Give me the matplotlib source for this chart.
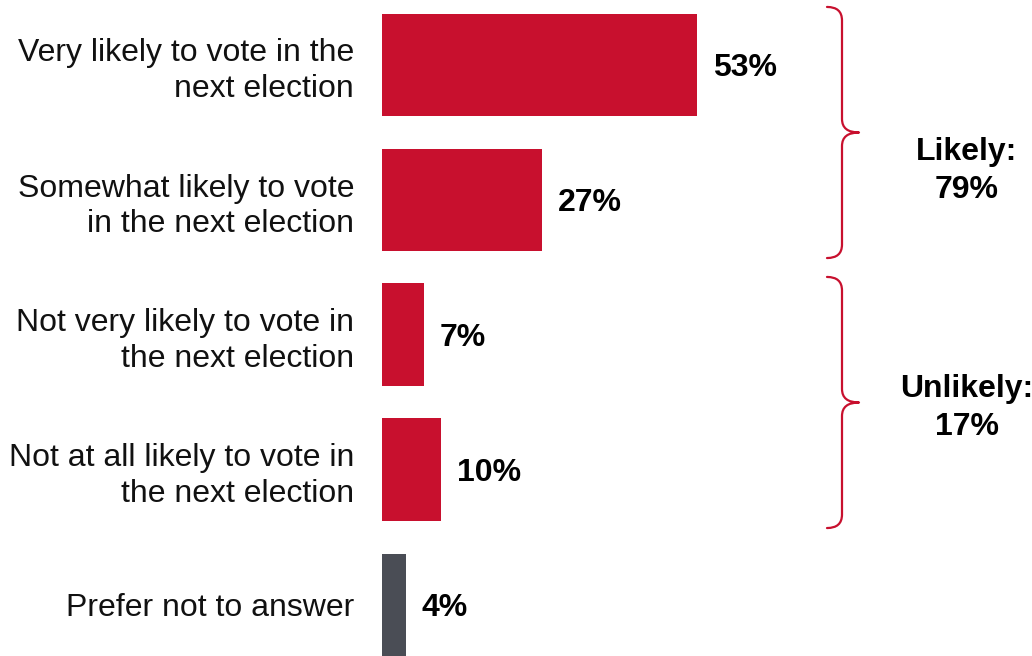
import matplotlib
matplotlib.use("Agg")
import matplotlib.pyplot as plt
from matplotlib.path import Path
from matplotlib.patches import PathPatch

plt.rcParams['font.family'] = ['Liberation Sans', 'DejaVu Sans']

categories = [
    "Very likely to vote in the\nnext election",
    "Somewhat likely to vote\nin the next election",
    "Not very likely to vote in\nthe next election",
    "Not at all likely to vote in\nthe next election",
    "Prefer not to answer",
]
values = [53, 27, 7, 10, 4]
value_labels = ["53%", "27%", "7%", "10%", "4%"]
bar_colors = ["#C8102E", "#C8102E", "#C8102E", "#C8102E", "#4A4D55"]

groups = [(0, 1), (2, 3)]
group_labels = ["Likely:\n79%", "Unlikely:\n17%"]

RED = "#C8102E"

fig = plt.figure(figsize=(10.32, 6.56), dpi=100)
ax = fig.add_axes([382 / 1032, 0, 650 / 1032, 1])

px_per_unit_x = 5.94
ax.set_xlim(0, 650 / px_per_unit_x)
ax.set_ylim((656 - 65) / 135, -65 / 135)

ypos = list(range(len(values)))
ax.barh(ypos, values, height=103 / 135, color=bar_colors, edgecolor='none')

for y, v, lab in zip(ypos, values, value_labels):
    ax.annotate(lab, (v, y), xytext=(11.5, -2.5), textcoords='offset points',
                ha='left', va='center', fontsize=23, fontweight='bold', color='black')

ax.set_yticks(ypos)
ax.set_yticklabels(categories, fontsize=23, color='#111111', linespacing=1.25)
ax.tick_params(axis='y', length=0, pad=20)
ax.tick_params(axis='x', length=0, labelbottom=False)
for s in ax.spines.values():
    s.set_visible(False)

# braces
x0 = (827 - 382) / px_per_unit_x
x1 = (842 - 382) / px_per_unit_x
x2 = (859 - 382) / px_per_unit_x
ext = 0.93
r = 0.1
label_offsets = [0.285, 0.04]
for (a, b), gl, off in zip(groups, group_labels, label_offsets):
    yt = a - ext + 0.5
    yb = b + ext - 0.5
    ym = (a + b) / 2
    verts = [
        (x0, yt),
        (x1, yt), (x1, yt + r),
        (x1, ym - r),
        (x1, ym), (x2, ym),
        (x1, ym), (x1, ym + r),
        (x1, yb - r),
        (x1, yb), (x0, yb),
    ]
    codes = [Path.MOVETO,
             Path.CURVE3, Path.CURVE3,
             Path.LINETO,
             Path.CURVE3, Path.CURVE3,
             Path.CURVE3, Path.CURVE3,
             Path.LINETO,
             Path.CURVE3, Path.CURVE3]
    ax.add_patch(PathPatch(Path(verts, codes), fill=False, edgecolor=RED,
                           linewidth=1.6, capstyle='round', joinstyle='round'))
    ax.text((967 - 382) / px_per_unit_x, ym + off, gl, ha='center', va='center',
            fontsize=23, fontweight='bold', linespacing=1.32, color='black')

fig.savefig("out.png", dpi=100)
